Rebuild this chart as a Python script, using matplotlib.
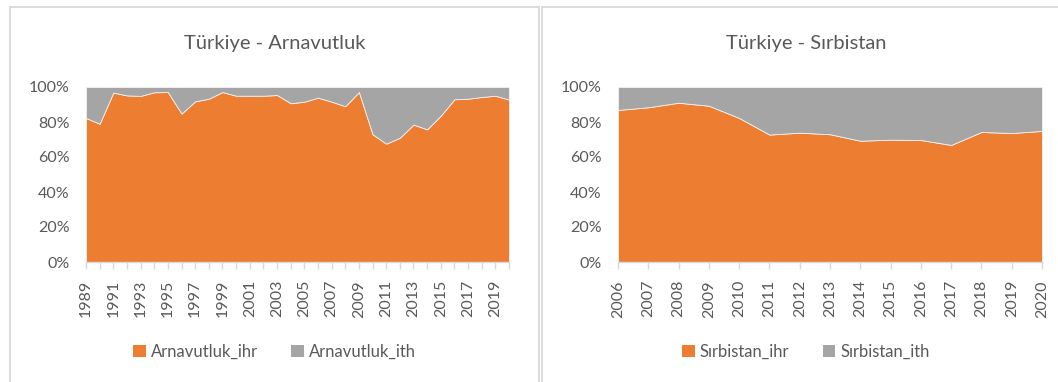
import matplotlib.pyplot as plt
from matplotlib.patches import Rectangle, Patch
from matplotlib.ticker import FixedLocator, FuncFormatter

ORANGE = "#ED7D31"
GREY = "#A5A5A5"
TEXT = "#595959"
FRAME = "#D9D9D9"

plt.rcParams["font.family"] = ["Lato", "DejaVu Sans"]

# Albania: share of exports / imports in bilateral trade (%)
alb_years = list(range(1989, 2021))
alb_ihr = [82.3, 79.0, 96.8, 95.2, 94.9, 97.0, 97.1, 84.8, 91.8, 93.3,
           97.1, 95.0, 95.0, 95.0, 95.4, 90.7, 91.6, 93.9, 91.6, 89.0,
           97.1, 73.0, 67.6, 71.0, 78.5, 75.8, 83.6, 93.0, 93.3, 94.3,
           95.0, 92.8]
alb_ith = [17.7, 21.0, 3.2, 4.8, 5.1, 3.0, 2.9, 15.2, 8.2, 6.7,
           2.9, 5.0, 5.0, 5.0, 4.6, 9.3, 8.4, 6.1, 8.4, 11.0,
           2.9, 27.0, 32.4, 29.0, 21.5, 24.2, 16.4, 7.0, 6.7, 5.7,
           5.0, 7.2]

# Serbia
srb_years = list(range(2006, 2021))
srb_ihr = [86.9, 88.4, 91.0, 89.3, 82.3, 72.8, 73.9, 73.0, 69.3, 69.9,
           69.7, 66.9, 74.3, 73.7, 74.9]
srb_ith = [13.1, 11.6, 9.0, 10.7, 17.7, 27.2, 26.1, 27.0, 30.7, 30.1,
           30.3, 33.1, 25.7, 26.3, 25.1]

W, H = 1058, 382


def fig_rect(x0, y0, x1, y1):
  # pixel box (top-left origin) -> figure fraction [left, bottom, width, height]
  return [x0 / W, 1 - y1 / H, (x1 - x0) / W, (y1 - y0) / H]


def draw_panel(fig, frame, plot_box, title, years, ihr, ith, names, label_step):
  x0, y0, x1, y1 = frame
  fig.patches.append(Rectangle((x0 / W, 1 - y1 / H), (x1 - x0) / W, (y1 - y0) / H,
                               transform=fig.transFigure, fill=False,
                               edgecolor=FRAME, lw=1.3, clip_on=False))
  ax = fig.add_axes(fig_rect(*plot_box))
  ax.stackplot(years, ihr, ith, colors=[ORANGE, GREY],
               edgecolor="#F2F2F2", linewidth=0.6)
  ax.set_xlim(years[0], years[-1])
  ax.set_ylim(0, 100)

  for side in ["top", "right", "left"]:
    ax.spines[side].set_visible(False)
  ax.spines["bottom"].set_color(FRAME)
  ax.spines["bottom"].set_linewidth(1)

  ax.set_yticks(range(0, 101, 20))
  ax.yaxis.set_major_formatter(FuncFormatter(lambda v, p: f"{int(v)}%"))
  ax.tick_params(axis="y", length=0, pad=12, labelsize=11.5, labelcolor=TEXT)

  ax.xaxis.set_major_locator(FixedLocator(years))
  ax.set_xticklabels([str(y) if (y - years[0]) % label_step == 0 else "" for y in years],
                     rotation=90)
  ax.tick_params(axis="x", length=5, width=1, color=FRAME, pad=8,
                 labelsize=11.5, labelcolor=TEXT)

  cx = (x0 + x1) / 2 / W
  fig.text(cx, 1 - 43 / H, title, ha="center", va="center", fontsize=14.5, color=TEXT)

  handles = [Patch(facecolor=ORANGE, label=names[0]),
             Patch(facecolor=GREY, label=names[1])]
  fig.legend(handles=handles, loc="center", bbox_to_anchor=(cx, 1 - 352 / H),
             ncol=2, frameon=False, fontsize=12, labelcolor=TEXT,
             handlelength=0.75, handleheight=0.75, handletextpad=0.3,
             columnspacing=2.0)
  return ax


fig = plt.figure(figsize=(W / 100, H / 100), dpi=100)

draw_panel(fig, (10, 7, 539, 400), (86, 87, 509, 262), "Türkiye - Arnavutluk",
           alb_years, alb_ihr, alb_ith, ["Arnavutluk_ihr", "Arnavutluk_ith"], 2)
draw_panel(fig, (542, 7, 1070, 400), (618, 87, 1042, 262), "Türkiye - Sırbistan",
           srb_years, srb_ihr, srb_ith, ["Sırbistan_ihr", "Sırbistan_ith"], 1)

fig.savefig("out.png", dpi=100)
